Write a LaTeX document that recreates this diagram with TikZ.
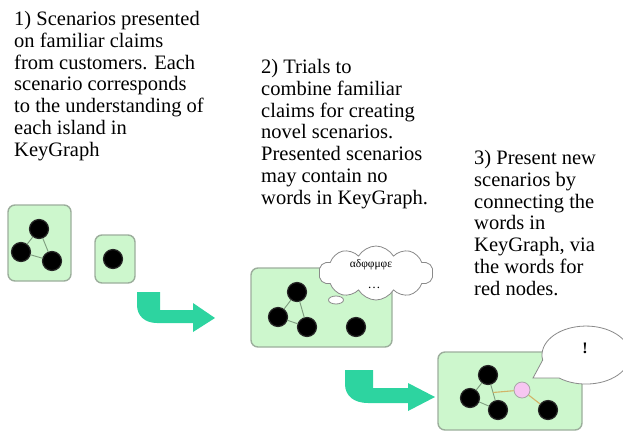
\documentclass[tikz,border=0pt]{standalone}
\usepackage{fontspec}
\setmainfont{Liberation Serif}
\usetikzlibrary{shapes.symbols,calc}

\definecolor{islandfill}{HTML}{CDF7CD}
\definecolor{islandline}{HTML}{9CAE9C}
\definecolor{arrowteal}{HTML}{2DD4A0}
\definecolor{linkgreen}{HTML}{7E9C7E}
\definecolor{linktan}{HTML}{D2B468}
\definecolor{rednode}{HTML}{F7C6F2}
\definecolor{bubbleline}{HTML}{8A8A8A}

\tikzset{
  caption/.style={anchor=north west, align=left, inner sep=0pt,
    font=\fontsize{20.5}{21.8}\selectfont},
  island/.style={draw=islandline, fill=islandfill, line width=1.4pt, rounded corners=7pt},
  word/.style={circle, fill=black, draw=black!85, line width=1.2pt, minimum size=19pt, inner sep=0pt},
  redword/.style={circle, fill=rednode, draw=gray!70, line width=0.8pt, minimum size=16pt, inner sep=0pt},
  link/.style={draw=linkgreen, line width=0.9pt},
  redlink/.style={draw=linktan, line width=1.1pt},
  turnarrow/.style={fill=arrowteal},
  bubble/.style={draw=bubbleline, fill=white, line width=0.8pt}
}

\begin{document}
\begin{tikzpicture}[x=1pt, y=-1pt]
\useasboundingbox (0,0) rectangle (623,432);

% step captions
\node[caption] (cap1) at (14,11) {1) Scenarios presented\\on familiar claims\\from customers. Each\\scenario corresponds\\to the understanding of\\each island in\\KeyGraph};
\node[caption] (cap2) at (261,59) {2) Trials to\\combine familiar\\claims for creating\\novel scenarios.\\Presented scenarios\\may contain no\\words in KeyGraph.};
\node[caption] (cap3) at (474,150) {3) Present new\\scenarios by\\connecting the\\words in\\KeyGraph, via\\the words for\\red nodes.};

% step 1: two separate islands
\draw[island] (8,205) rectangle (71,281);
\draw[island] (95,235) rectangle (135,283);
\node[word] (a1) at (39,229) {};
\node[word] (a2) at (21,252) {};
\node[word] (a3) at (52,261) {};
\draw[link] (a1) -- (a2) (a1) -- (a3) (a2) -- (a3);
\node[word] (b1) at (113,259) {};

% bent arrow 1
\fill[turnarrow] (137,292) -- (160,292) -- (160,310) -- (193,310) -- (193,303) -- (215,318)
  -- (193,332) -- (193,323) -- (157,323) .. controls (145,323) and (137,316) .. (137,305) -- cycle;

% step 2: combined island with thought cloud
\draw[island] (251,268) rectangle (392,347);
\node[word] (c1) at (297,292) {};
\node[word] (c2) at (278,317) {};
\node[word] (c3) at (307,327) {};
\node[word] (c4) at (356,327) {};
\draw[link] (c1) -- (c2) (c1) -- (c3) (c2) -- (c3);
\node[cloud, cloud puffs=10, cloud puff arc=120, aspect=2.1, bubble,
      minimum width=114pt, minimum height=54pt, inner sep=0pt] (thought) at (376,273) {};
\draw[bubble] (336,300) ellipse [x radius=7.5pt, y radius=4pt];
\node[font=\fontsize{11.5}{12}\selectfont, inner sep=0pt] (greek) at (371,265) {αδφφμφε};
\node[font=\fontsize{13}{13}\selectfont, inner sep=0pt] (dots) at (374,288) {…};

% bent arrow 2
\fill[turnarrow] (345,370) -- (373,370) -- (373,388) -- (408,388) -- (408,383) -- (435,397)
  -- (408,411) -- (408,403) -- (368,403) .. controls (354,403) and (345,396) .. (345,384) -- cycle;

% step 3: island joined through a red node
\draw[island] (438,352) rectangle (582,430);
\node[word] (d1) at (488,375) {};
\node[word] (d2) at (470,398) {};
\node[word] (d3) at (498,410) {};
\node[word] (d4) at (548,410) {};
\node[redword] (r1) at (522,390) {};
\draw[link] (d1) -- (d2) (d2) -- (d3) (d1) -- (d3);
\coordinate (dmid) at ($(d1)!0.5!(d3)$);
\draw[redlink] (dmid) -- (r1) (r1) -- (d4);

% speech bubble
\draw[bubble] (533,378) -- (558.9,377.9)
  arc[start angle=232, end angle=550, x radius=44pt, y radius=29pt] -- cycle;
\node[font=\fontsize{16}{16}\selectfont\bfseries, inner sep=0pt] (bang) at (585,348) {!};
\end{tikzpicture}
\end{document}
